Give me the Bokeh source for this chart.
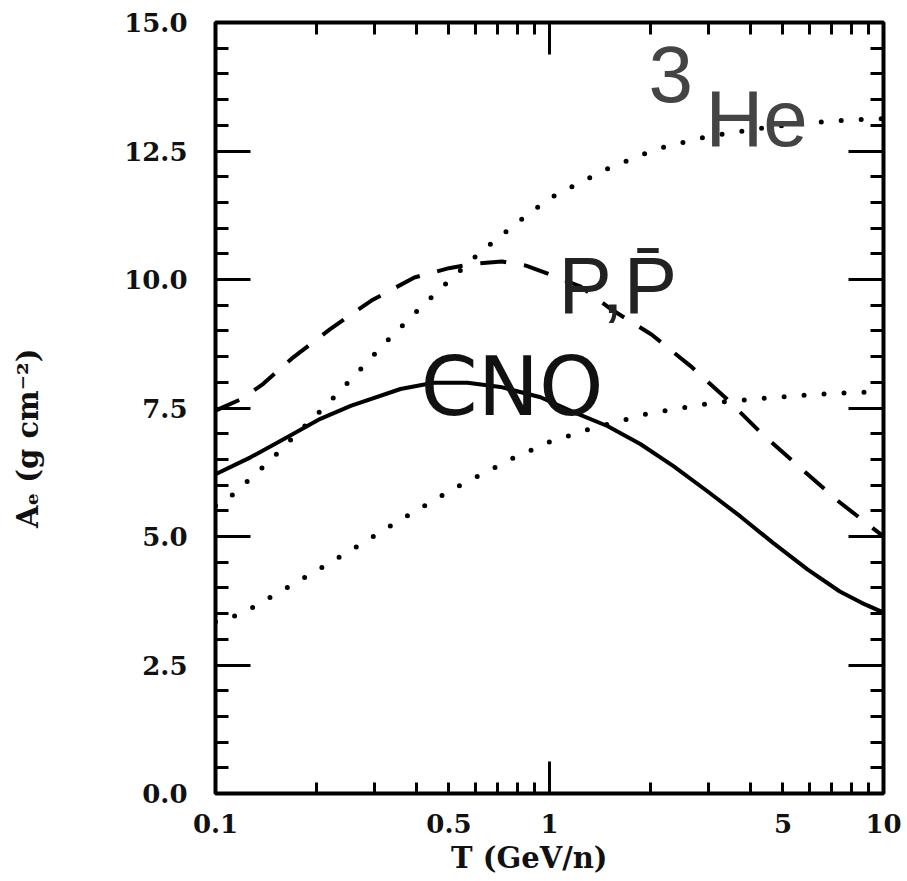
from bokeh.plotting import figure
from bokeh.models import LinearAxis, FixedTicker, Range1d, Label, PrintfTickFormatter
from bokeh.embed import file_html
from bokeh.resources import INLINE

# ---- data ----
t_cno = [0.10, 0.1273, 0.168, 0.206, 0.254, 0.358, 0.45, 0.568, 0.713, 0.94, 1.18, 1.49,
         1.87, 2.35, 2.97, 3.73, 4.66, 5.92, 7.4, 8.6, 10.0]
a_cno = [6.21, 6.54, 6.97, 7.29, 7.54, 7.87, 7.99, 7.99, 7.91, 7.71, 7.42, 7.15,
         6.80, 6.37, 5.88, 5.39, 4.88, 4.36, 3.93, 3.71, 3.52]

t_pp = [0.10, 0.12, 0.139, 0.169, 0.221, 0.293, 0.394, 0.50, 0.60, 0.72, 0.85, 1.02, 1.24,
        1.53, 2.02, 2.64, 3.39, 4.34, 5.61, 7.28, 10.0]
a_pp = [7.45, 7.68, 7.97, 8.46, 9.04, 9.59, 10.04, 10.22, 10.31, 10.35, 10.27, 10.08, 9.86,
        9.42, 8.93, 8.32, 7.68, 6.99, 6.35, 5.70, 5.00]

t_he3 = [0.10, 0.111, 0.142, 0.1735, 0.2135, 0.259, 0.316, 0.386, 0.475, 0.625, 0.70, 0.78,
         1.0, 1.33, 1.51, 1.98, 2.27, 3.01, 4.59, 7.13, 10.0]
a_he3 = [5.60, 5.78, 6.41, 6.97, 7.54, 8.11, 8.71, 9.28, 9.84, 10.55, 10.80, 11.05,
         11.58, 11.99, 12.17, 12.48, 12.60, 12.79, 12.97, 13.09, 13.13]

t_low = [0.10, 0.12, 0.176, 0.254, 0.363, 0.527, 0.775, 1.0, 1.32, 2.0, 3.08, 4.75, 7.33, 10.0]
a_low = [3.34, 3.50, 4.12, 4.73, 5.35, 5.96, 6.52, 6.84, 7.09, 7.40, 7.60, 7.71, 7.79, 7.82]

y_major = [0.0, 2.5, 5.0, 7.5, 10.0, 12.5, 15.0]
y_minor = [0.5, 1.0, 1.5, 2.0, 3.0, 3.5, 4.0, 4.5, 5.5, 6.0, 6.5, 7.0, 8.0, 8.5, 9.0, 9.5,
           10.5, 11.0, 11.5, 12.0, 13.0, 13.5, 14.0, 14.5]
x_major = [0.1, 1.0, 10.0]
x_minor = [0.2, 0.3, 0.4, 0.5, 0.6, 0.7, 0.8, 0.9, 2, 3, 4, 5, 6, 7, 8, 9]
x_labels = [0.1, 0.5, 1.0, 5.0, 10.0]
x_label_text = ["0.1", "0.5", "1", "5", "10"]

LABEL_FONT = "DejaVu Serif"
NBSP = "\u00a0"

p = figure(width=907, height=881, x_axis_type="log",
           x_range=Range1d(0.1, 10), y_range=Range1d(0, 15),
           output_backend="svg", toolbar_location=None,
           x_axis_location=None, y_axis_location=None,
           min_border_left=215, min_border_right=24, min_border_top=22, min_border_bottom=88)
p.grid.grid_line_color = None
p.outline_line_color = "black"
p.outline_line_width = 4
p.background_fill_color = "white"
p.border_fill_color = "white"


def tick_style(ax, maj_in, min_in):
    ax.axis_line_color = None
    ax.major_tick_in = maj_in
    ax.major_tick_out = 0
    ax.minor_tick_in = min_in
    ax.minor_tick_out = 0
    ax.major_tick_line_width = 3
    ax.minor_tick_line_width = 3
    ax.major_tick_line_color = "black"
    ax.minor_tick_line_color = "black"


def hide_labels(ax):
    ax.major_label_text_font_size = "1px"
    ax.major_label_text_color = None
    ax.major_label_text_alpha = 0
    ax.major_label_standoff = 0


# left axis with labels
left = LinearAxis(ticker=FixedTicker(ticks=y_major, minor_ticks=y_minor),
                  formatter=PrintfTickFormatter(format="%.1f"))
tick_style(left, 35, 13)
left.major_label_text_font = LABEL_FONT
left.major_label_text_font_style = "bold"
left.major_label_text_font_size = "26px"
left.major_label_text_color = "#111111"
left.major_label_standoff = 28
left.axis_label = "Aₑ (g cm⁻²)" + NBSP * 6
left.axis_label_text_font = LABEL_FONT
left.axis_label_text_font_style = "bold"
left.axis_label_text_font_size = "29px"
left.axis_label_text_color = "#111111"
left.axis_label_standoff = 76
p.add_layout(left, "left")

# right axis (ticks only)
right = LinearAxis(ticker=FixedTicker(ticks=y_major, minor_ticks=y_minor))
tick_style(right, 35, 13)
hide_labels(right)
p.add_layout(right, "right")

# top axis (ticks only)
top = LinearAxis(ticker=FixedTicker(ticks=x_major, minor_ticks=x_minor))
tick_style(top, 32, 12)
hide_labels(top)
p.add_layout(top, "above")

# bottom tick axis (nearest the frame)
bottom_ticks = LinearAxis(ticker=FixedTicker(ticks=x_major, minor_ticks=x_minor))
tick_style(bottom_ticks, 32, 11)
hide_labels(bottom_ticks)
p.add_layout(bottom_ticks, "below")

# bottom label axis
bottom = LinearAxis(ticker=FixedTicker(ticks=x_labels, minor_ticks=[]),
                    major_label_overrides={v: s for v, s in zip(x_labels, x_label_text)})
bottom.axis_line_color = None
bottom.major_tick_line_color = None
bottom.minor_tick_line_color = None
bottom.major_tick_in = 0
bottom.major_tick_out = 0
bottom.major_label_text_font = LABEL_FONT
bottom.major_label_text_font_style = "bold"
bottom.major_label_text_font_size = "26px"
bottom.major_label_text_color = "#111111"
bottom.major_label_standoff = 20
bottom.axis_label = "T (GeV/n)" + NBSP * 4
bottom.axis_label_text_font = LABEL_FONT
bottom.axis_label_text_font_style = "bold"
bottom.axis_label_text_font_size = "29px"
bottom.axis_label_text_color = "#111111"
bottom.axis_label_standoff = 5
p.add_layout(bottom, "below")

# curves
p.line(t_cno, a_cno, line_color="black", line_width=4)
p.line(t_pp, a_pp, line_color="black", line_width=4, line_dash="26 18")
p.line(t_he3, a_he3, line_color="black", line_width=5, line_dash="0 20", line_cap="round")
p.line(t_low, a_low, line_color="black", line_width=5, line_dash="0 20", line_cap="round")

# curve labels
p.add_layout(Label(x=0.411, y=7.92, text="CNO", text_font="DejaVu Sans",
                   text_font_size="82px", text_color="#111111", text_baseline="alphabetic"))
p.add_layout(Label(x=1.064, y=9.88, text="P,P̄", text_font="Liberation Sans",
                   text_font_size="80px", text_color="#222222", text_baseline="alphabetic"))
p.add_layout(Label(x=1.98, y=13.98, text="3", text_font="Liberation Sans",
                   text_font_size="80px", text_color="#444444", text_baseline="alphabetic"))
p.add_layout(Label(x=2.93, y=13.14, text="He", text_font="Liberation Sans",
                   text_font_size="80px", text_color="#444444", text_baseline="alphabetic"))

open("out.html", "w").write(file_html(p, INLINE))
